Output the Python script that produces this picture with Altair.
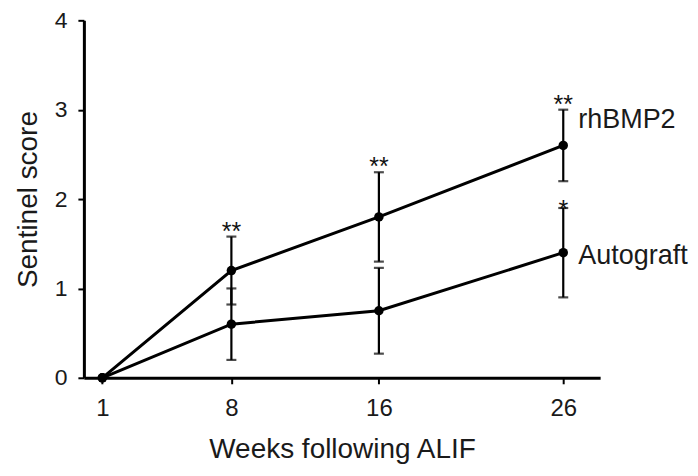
import altair as alt
import pandas as pd

weeks = [1, 8, 16, 26]
groups = ["rhBMP2", "Autograft"]
rhbmp2_mean = [0.0, 1.2, 1.8, 2.6]
rhbmp2_err = [0.0, 0.38, 0.5, 0.4]
autograft_mean = [0.0, 0.6, 0.75, 1.4]
autograft_err = [0.0, 0.4, 0.48, 0.5]
stars_rhbmp2 = ["", "**", "**", "**"]
stars_autograft = ["", "", "", "*"]
label_values = [2.88, 1.36]

rows = []
for g, means, errs, stars in [
    ("rhBMP2", rhbmp2_mean, rhbmp2_err, stars_rhbmp2),
    ("Autograft", autograft_mean, autograft_err, stars_autograft),
]:
    for w, m, e, s in zip(weeks, means, errs, stars):
        rows.append({"group": g, "week": w, "score": m, "lo": m - e, "hi": m + e, "star": s})
df = pd.DataFrame(rows)
err_df = df[df["week"] > 1]
star2 = df[df["star"] == "**"]
star1 = df[df["star"] == "*"]
lab_df = pd.DataFrame({"group": groups, "week": [weeks[-1]] * 2, "score": label_values})

FONT = "Liberation Sans"
x = alt.X("week:Q", scale=alt.Scale(domain=[0, 28], nice=False),
          axis=alt.Axis(values=weeks, title="Weeks following ALIF", format="d"))
y = alt.Y("score:Q", scale=alt.Scale(domain=[0, 4], nice=False),
          axis=alt.Axis(values=[0, 1, 2, 3, 4], title="Sentinel score", format="d"))

base = alt.Chart(df)
lines = base.mark_line(color="black", strokeWidth=3).encode(x=x, y=y, detail="group:N")
pts = base.mark_circle(color="black", size=90, opacity=1).encode(x=x, y=y, detail="group:N")
ebar = alt.Chart(err_df).mark_rule(color="black", strokeWidth=2.2).encode(
    x="week:Q", y="lo:Q", y2="hi:Q")
cap_lo = alt.Chart(err_df).mark_tick(color="black", thickness=2.2, size=10, orient="horizontal").encode(
    x="week:Q", y="lo:Q")
cap_hi = alt.Chart(err_df).mark_tick(color="black", thickness=2.2, size=10, orient="horizontal").encode(
    x="week:Q", y="hi:Q")
s2 = alt.Chart(star2).mark_text(font=FONT, fontSize=25, baseline="alphabetic", dy=3, color="#111111").encode(
    x="week:Q", y="hi:Q", text="star:N")
s1 = alt.Chart(star1).mark_text(font=FONT, fontSize=25, baseline="alphabetic", dy=10, color="#111111").encode(
    x="week:Q", y="hi:Q", text="star:N")
labs = alt.Chart(lab_df).mark_text(font=FONT, fontSize=27, align="left", baseline="middle", dx=15,
                                   color="#1a1a1a").encode(
    x="week:Q", y="score:Q", text="group:N")

chart = alt.layer(lines, ebar, cap_lo, cap_hi, pts, s2, s1, labs).properties(
    width=517, height=358,
    autosize=alt.AutoSizeParams(type="none"),
    padding={"left": 76, "top": 12, "right": 90, "bottom": 90},
    background="white",
).configure_view(stroke=None).configure_axis(
    grid=False, domainColor="black", domainWidth=3, tickColor="black", tickWidth=2,
    tickSize=6, labelFont=FONT, labelColor="#1a1a1a",
    titleFont=FONT, titleFontSize=28, titleFontWeight="normal", titleColor="#1a1a1a",
).configure_axisX(labelFontSize=24, labelPadding=13, titlePadding=15).configure_axisY(
    labelFontSize=23, labelPadding=11, titlePadding=12)

chart.save("out.html", embed_options={"renderer": "svg", "actions": False})
